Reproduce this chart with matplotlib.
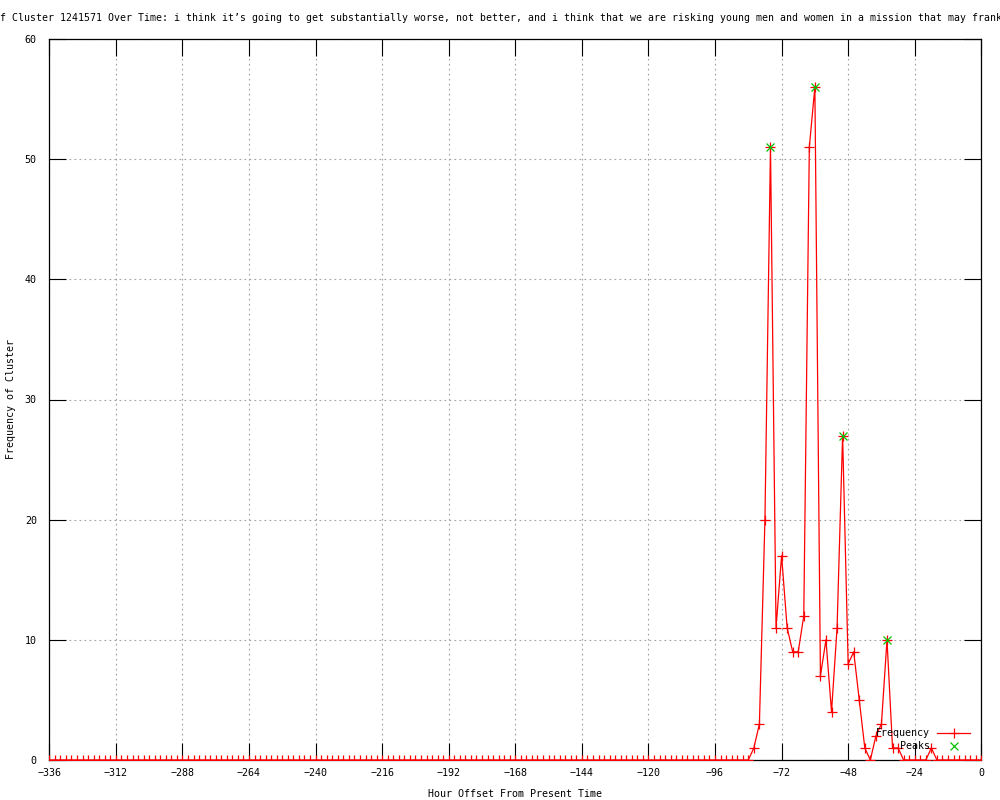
import matplotlib
matplotlib.use("Agg")
import matplotlib.pyplot as plt

# ---- data ----
hours = list(range(-336, 1, 2))
freq = [
    0, 0, 0, 0, 0, 0, 0, 0, 0, 0, 0, 0,   # -336 .. -314
    0, 0, 0, 0, 0, 0, 0, 0, 0, 0, 0, 0,   # -312 .. -290
    0, 0, 0, 0, 0, 0, 0, 0, 0, 0, 0, 0,   # -288 .. -266
    0, 0, 0, 0, 0, 0, 0, 0, 0, 0, 0, 0,   # -264 .. -242
    0, 0, 0, 0, 0, 0, 0, 0, 0, 0, 0, 0,   # -240 .. -218
    0, 0, 0, 0, 0, 0, 0, 0, 0, 0, 0, 0,   # -216 .. -194
    0, 0, 0, 0, 0, 0, 0, 0, 0, 0, 0, 0,   # -192 .. -170
    0, 0, 0, 0, 0, 0, 0, 0, 0, 0, 0, 0,   # -168 .. -146
    0, 0, 0, 0, 0, 0, 0, 0, 0, 0, 0, 0,   # -144 .. -122
    0, 0, 0, 0, 0, 0, 0, 0, 0, 0, 0, 0,   # -120 .. -98
    0, 0, 0, 0, 0, 0, 0,                  # -96 .. -84
    1, 3, 20, 51, 11, 17, 11, 9, 9, 12,   # -82 .. -64
    51, 56, 7, 10, 4, 11, 27, 8, 9, 5,    # -62 .. -44
    1, 0, 2, 3, 10, 1, 1, 0, 0, 0,        # -42 .. -24
    0, 0, 1, 0, 0, 0, 0, 0, 0, 0,         # -22 .. -4
    0, 0,                                 # -2 .. 0
]
peak_hours = [-76, -60, -50, -34]
peak_vals = [51, 56, 27, 10]

x_ticks = list(range(-336, 1, 24))
y_ticks = list(range(0, 61, 10))

title = ("Frequency of Cluster 1241571 Over Time: i think it\u2019s going to get "
         "substantially worse, not better, and i think that we are risking young "
         "men and women in a mission that may frankly")

FONT = "DejaVu Sans Mono"
FS = 7.2
plt.rcParams["font.family"] = FONT
plt.rcParams["font.size"] = FS

fig = plt.figure(figsize=(10, 8), dpi=100)
L, R, T, B = 49.3, 981.3, 39, 760
ax = fig.add_axes([L / 1000, 1 - B / 800, (R - L) / 1000, (B - T) / 800])

ax.plot(hours, freq, color="#ff0000", linewidth=0.9, marker="+",
        markersize=6.5, markeredgewidth=0.9, label="Frequency", zorder=3)
ax.plot(peak_hours, peak_vals, linestyle="none", color="#00c000", marker="x",
        markersize=5.5, markeredgewidth=0.9, label="Peaks", zorder=4)

ax.set_xlim(-336, 0)
ax.set_ylim(0, 60)
ax.set_xticks(x_ticks)
ax.set_yticks(y_ticks)
ax.tick_params(direction="in", length=12.2, width=0.8, top=True, right=True,
               labelsize=FS, colors="black")
ax.tick_params(axis="x", pad=6)
ax.tick_params(axis="y", pad=9)
for s in ax.spines.values():
    s.set_linewidth(0.9)
    s.set_color("black")

ax.grid(True, color="#a0a0a0", linestyle=(0, (1.5, 3)), linewidth=0.8)
ax.set_axisbelow(True)

ax.set_xlabel("Hour Offset From Present Time", fontsize=FS, labelpad=8)
ax.set_ylabel("Frequency of Cluster", fontsize=FS)
ax.yaxis.set_label_coords((16 - L) / (R - L), 0.5)

fig.text(-0.0655, 0.978, title, ha="left", va="center", fontsize=7.14)

leg = ax.legend(loc="lower right", bbox_to_anchor=((970 - L) / (R - L), 0.012),
                frameon=False, markerfirst=False, handlelength=3.3,
                handletextpad=0.7, labelspacing=0.3, borderpad=0,
                borderaxespad=0, fontsize=FS)

fig.savefig("out.png", dpi=100)
